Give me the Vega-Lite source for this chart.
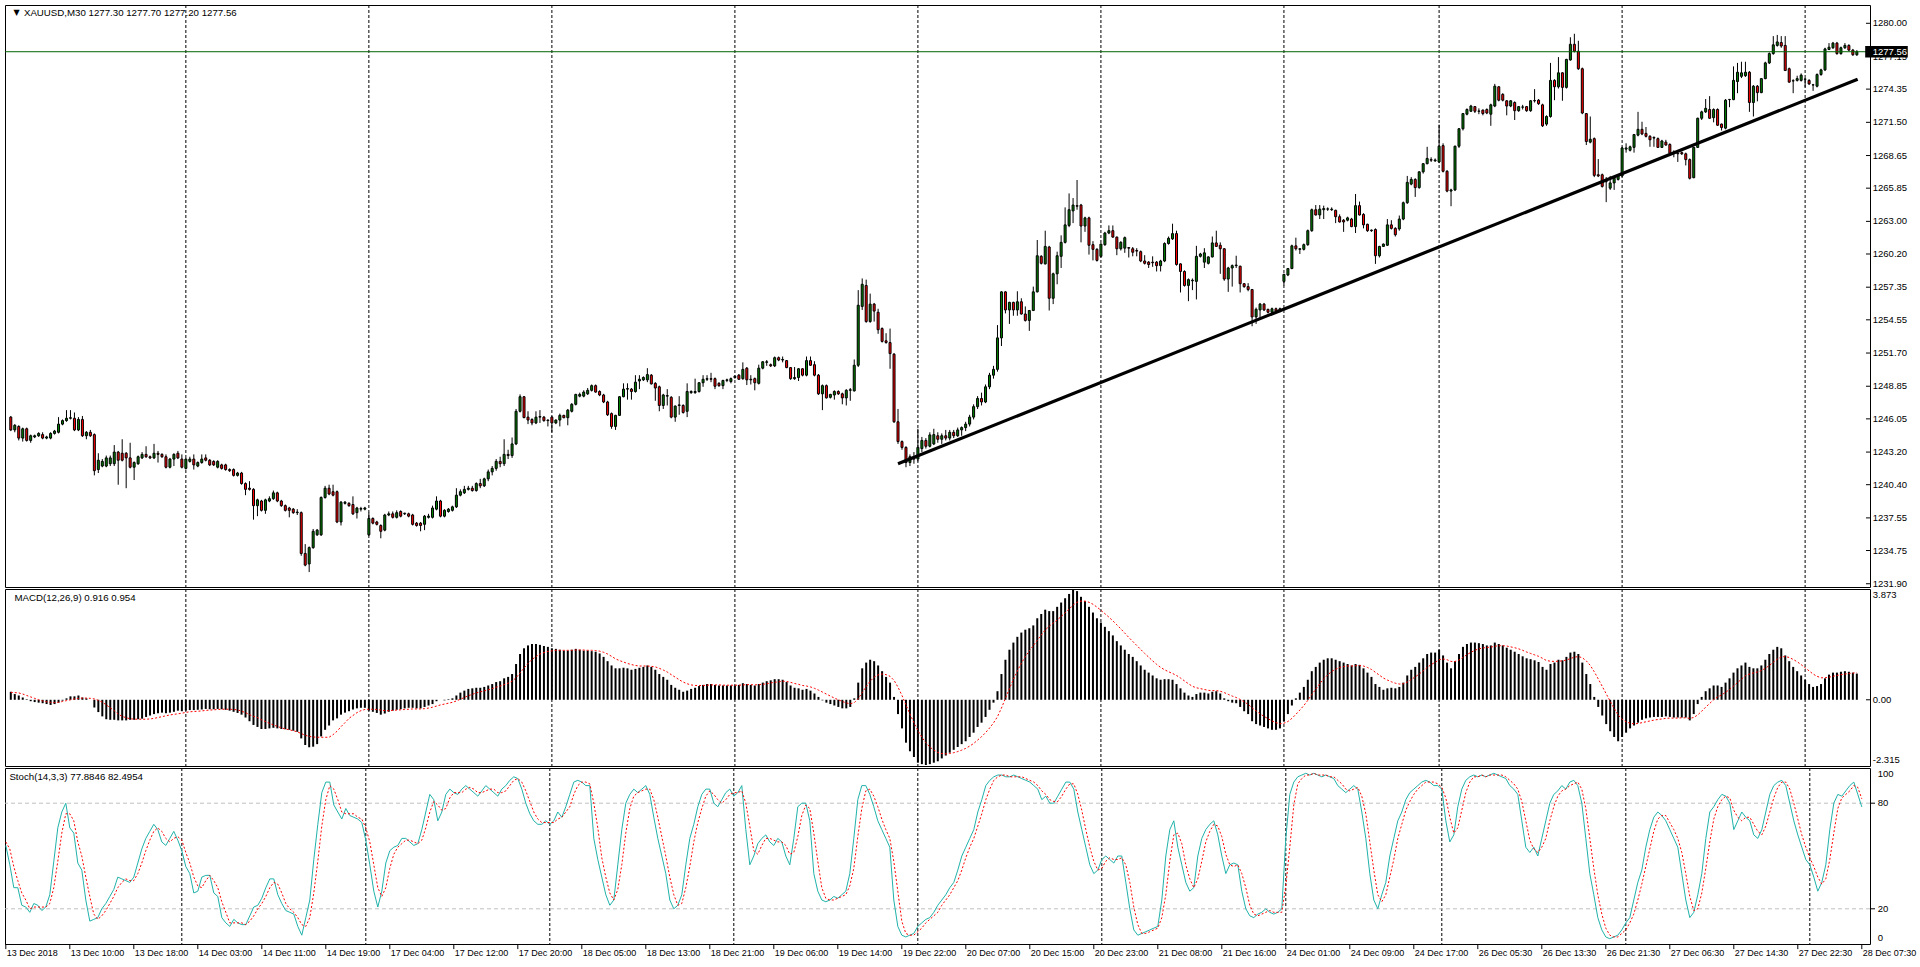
{
"$schema":"https://vega.github.io/schema/vega-lite/v6.json",
"padding":{"left":3,"top":4,"right":50,"bottom":23},
"background":"white",
"bounds":"flush",
"spacing":2,
"config":{"view":{"stroke":"black","strokeWidth":1},"font":"Liberation Sans","text":{"font":"Liberation Sans","color":"black","clip":false}},
"datasets":{
"seps":[{"x":44},{"x":90},{"x":136},{"x":182},{"x":228},{"x":274},{"x":320},{"x":359},{"x":405},{"x":451}],
"trend":[{"x":223,"y":1242.2},{"x":464.2,"y":1275.2}],
"pt":[{"v":1280.00,"t":"1280.00"},{"v":1277.15,"t":"1277.15"},{"v":1274.35,"t":"1274.35"},{"v":1271.50,"t":"1271.50"},{"v":1268.65,"t":"1268.65"},{"v":1265.85,"t":"1265.85"},{"v":1263.00,"t":"1263.00"},{"v":1260.20,"t":"1260.20"},{"v":1257.35,"t":"1257.35"},{"v":1254.55,"t":"1254.55"},{"v":1251.70,"t":"1251.70"},{"v":1248.85,"t":"1248.85"},{"v":1246.05,"t":"1246.05"},{"v":1243.20,"t":"1243.20"},{"v":1240.40,"t":"1240.40"},{"v":1237.55,"t":"1237.55"},{"v":1234.75,"t":"1234.75"},{"v":1231.90,"t":"1231.90"}],
"xt":[{"x":0,"t":"13 Dec 2018"},{"x":16,"t":"13 Dec 10:00"},{"x":32,"t":"13 Dec 18:00"},{"x":48,"t":"14 Dec 03:00"},{"x":64,"t":"14 Dec 11:00"},{"x":80,"t":"14 Dec 19:00"},{"x":96,"t":"17 Dec 04:00"},{"x":112,"t":"17 Dec 12:00"},{"x":128,"t":"17 Dec 20:00"},{"x":144,"t":"18 Dec 05:00"},{"x":160,"t":"18 Dec 13:00"},{"x":176,"t":"18 Dec 21:00"},{"x":192,"t":"19 Dec 06:00"},{"x":208,"t":"19 Dec 14:00"},{"x":224,"t":"19 Dec 22:00"},{"x":240,"t":"20 Dec 07:00"},{"x":256,"t":"20 Dec 15:00"},{"x":272,"t":"20 Dec 23:00"},{"x":288,"t":"21 Dec 08:00"},{"x":304,"t":"21 Dec 16:00"},{"x":320,"t":"24 Dec 01:00"},{"x":336,"t":"24 Dec 09:00"},{"x":352,"t":"24 Dec 17:00"},{"x":368,"t":"26 Dec 05:30"},{"x":384,"t":"26 Dec 13:30"},{"x":400,"t":"26 Dec 21:30"},{"x":416,"t":"27 Dec 06:30"},{"x":432,"t":"27 Dec 14:30"},{"x":448,"t":"27 Dec 22:30"},{"x":464,"t":"28 Dec 07:30"}],
"bars":[
{"i":0,"o":1246.2,"h":1246.3,"l":1245.0,"c":1245.1,"m":0.28,"s":0.26,"k":56,"d":58},
{"i":1,"o":1245.1,"h":1245.6,"l":1244.9,"c":1245.5,"m":0.2,"s":0.25,"k":45,"d":54},
{"i":2,"o":1245.4,"h":1245.5,"l":1244.2,"c":1244.4,"m":0.15,"s":0.24,"k":32,"d":44},
{"i":3,"o":1244.4,"h":1245.3,"l":1244.1,"c":1245.2,"m":0.08,"s":0.2,"k":32,"d":36},
{"i":4,"o":1245.2,"h":1245.3,"l":1244.1,"c":1244.2,"m":0.02,"s":0.15,"k":22,"d":29},
{"i":5,"o":1244.2,"h":1244.7,"l":1244.0,"c":1244.6,"m":-0.05,"s":0.1,"k":21,"d":25},
{"i":6,"o":1244.5,"h":1244.7,"l":1244.4,"c":1244.6,"m":-0.08,"s":0.05,"k":18,"d":20},
{"i":7,"o":1244.6,"h":1244.9,"l":1244.5,"c":1244.8,"m":-0.1,"s":0.0,"k":23,"d":21},
{"i":8,"o":1244.7,"h":1244.9,"l":1244.3,"c":1244.4,"m":-0.12,"s":-0.04,"k":22,"d":21},
{"i":9,"o":1244.4,"h":1244.6,"l":1244.3,"c":1244.5,"m":-0.15,"s":-0.07,"k":19,"d":21},
{"i":10,"o":1244.4,"h":1244.9,"l":1244.3,"c":1244.8,"m":-0.18,"s":-0.09,"k":21,"d":21},
{"i":11,"o":1244.8,"h":1245.1,"l":1244.7,"c":1245.0,"m":-0.15,"s":-0.1,"k":28,"d":23},
{"i":12,"o":1244.9,"h":1246.2,"l":1244.8,"c":1245.6,"m":-0.1,"s":-0.09,"k":47,"d":32},
{"i":13,"o":1245.6,"h":1246.0,"l":1245.5,"c":1245.9,"m":-0.03,"s":-0.06,"k":66,"d":47},
{"i":14,"o":1245.9,"h":1246.8,"l":1245.8,"c":1246.1,"m":0.05,"s":-0.03,"k":75,"d":63},
{"i":15,"o":1246.1,"h":1246.8,"l":1246.0,"c":1246.15,"m":0.12,"s":0.0,"k":80,"d":74},
{"i":16,"o":1246.1,"h":1246.6,"l":1245.0,"c":1245.1,"m":0.12,"s":0.03,"k":66,"d":74},
{"i":17,"o":1245.1,"h":1246.2,"l":1245.0,"c":1246.0,"m":0.15,"s":0.05,"k":63,"d":70},
{"i":18,"o":1246.0,"h":1246.3,"l":1244.5,"c":1244.6,"m":0.08,"s":0.06,"k":46,"d":58},
{"i":19,"o":1244.6,"h":1245.0,"l":1244.3,"c":1244.9,"m":0.05,"s":0.06,"k":42,"d":50},
{"i":20,"o":1244.9,"h":1245.1,"l":1244.5,"c":1244.6,"m":0.0,"s":0.05,"k":25,"d":38},
{"i":21,"o":1244.7,"h":1244.8,"l":1241.2,"c":1241.6,"m":-0.27,"s":0.03,"k":13,"d":27},
{"i":22,"o":1241.7,"h":1243.1,"l":1241.4,"c":1242.5,"m":-0.43,"s":-0.02,"k":14,"d":17},
{"i":23,"o":1242.0,"h":1242.6,"l":1241.9,"c":1242.4,"m":-0.58,"s":-0.08,"k":15,"d":14},
{"i":24,"o":1242.0,"h":1242.9,"l":1241.9,"c":1242.7,"m":-0.68,"s":-0.18,"k":20,"d":16},
{"i":25,"o":1242.2,"h":1242.9,"l":1242.0,"c":1242.7,"m":-0.7,"s":-0.28,"k":23,"d":19},
{"i":26,"o":1242.2,"h":1243.8,"l":1242.0,"c":1243.2,"m":-0.7,"s":-0.38,"k":27,"d":23},
{"i":27,"o":1243.2,"h":1243.3,"l":1240.4,"c":1242.5,"m":-0.72,"s":-0.5,"k":31,"d":27},
{"i":28,"o":1243.1,"h":1244.3,"l":1242.4,"c":1242.5,"m":-0.72,"s":-0.58,"k":38,"d":32},
{"i":29,"o":1243.1,"h":1243.2,"l":1240.1,"c":1242.7,"m":-0.72,"s":-0.63,"k":37,"d":35},
{"i":30,"o":1242.7,"h":1244.0,"l":1241.8,"c":1241.9,"m":-0.7,"s":-0.66,"k":36,"d":37},
{"i":31,"o":1241.9,"h":1242.4,"l":1240.8,"c":1242.3,"m":-0.7,"s":-0.68,"k":35,"d":36},
{"i":32,"o":1242.2,"h":1242.9,"l":1242.1,"c":1242.8,"m":-0.68,"s":-0.68,"k":38,"d":36},
{"i":33,"o":1242.7,"h":1243.2,"l":1242.6,"c":1243.0,"m":-0.66,"s":-0.68,"k":46,"d":40},
{"i":34,"o":1243.0,"h":1243.7,"l":1242.7,"c":1242.8,"m":-0.6,"s":-0.68,"k":54,"d":46},
{"i":35,"o":1242.8,"h":1242.9,"l":1242.6,"c":1242.7,"m":-0.55,"s":-0.67,"k":60,"d":53},
{"i":36,"o":1242.7,"h":1243.9,"l":1242.6,"c":1243.1,"m":-0.5,"s":-0.65,"k":64,"d":59},
{"i":37,"o":1243.1,"h":1243.3,"l":1242.3,"c":1243.0,"m":-0.47,"s":-0.62,"k":68,"d":64},
{"i":38,"o":1243.0,"h":1243.1,"l":1242.7,"c":1242.8,"m":-0.45,"s":-0.59,"k":65,"d":66},
{"i":39,"o":1242.8,"h":1243.0,"l":1241.8,"c":1241.9,"m":-0.47,"s":-0.56,"k":58,"d":64},
{"i":40,"o":1241.9,"h":1242.7,"l":1241.8,"c":1242.6,"m":-0.45,"s":-0.53,"k":56,"d":60},
{"i":41,"o":1242.6,"h":1243.1,"l":1242.0,"c":1243.0,"m":-0.42,"s":-0.51,"k":60,"d":58},
{"i":42,"o":1243.1,"h":1243.3,"l":1242.6,"c":1242.7,"m":-0.38,"s":-0.49,"k":64,"d":60},
{"i":43,"o":1242.6,"h":1243.0,"l":1241.8,"c":1241.9,"m":-0.4,"s":-0.47,"k":59,"d":61},
{"i":44,"o":1241.8,"h":1242.7,"l":1241.7,"c":1242.6,"m":-0.38,"s":-0.44,"k":53,"d":59},
{"i":45,"o":1242.4,"h":1242.8,"l":1242.3,"c":1242.6,"m":-0.36,"s":-0.42,"k":44,"d":52},
{"i":46,"o":1242.6,"h":1243.0,"l":1241.7,"c":1242.1,"m":-0.36,"s":-0.41,"k":40,"d":46},
{"i":47,"o":1242.0,"h":1242.4,"l":1241.9,"c":1242.3,"m":-0.35,"s":-0.4,"k":29,"d":38},
{"i":48,"o":1242.3,"h":1243.0,"l":1242.2,"c":1242.6,"m":-0.34,"s":-0.39,"k":30,"d":33},
{"i":49,"o":1242.7,"h":1243.0,"l":1242.4,"c":1242.5,"m":-0.32,"s":-0.37,"k":38,"d":32},
{"i":50,"o":1242.5,"h":1242.6,"l":1242.0,"c":1242.1,"m":-0.33,"s":-0.36,"k":39,"d":36},
{"i":51,"o":1242.4,"h":1242.5,"l":1242.0,"c":1242.1,"m":-0.33,"s":-0.35,"k":39,"d":39},
{"i":52,"o":1241.9,"h":1242.5,"l":1241.8,"c":1242.4,"m":-0.32,"s":-0.34,"k":29,"d":36},
{"i":53,"o":1242.1,"h":1242.2,"l":1241.7,"c":1241.8,"m":-0.33,"s":-0.33,"k":27,"d":32},
{"i":54,"o":1242.1,"h":1242.2,"l":1241.6,"c":1241.7,"m":-0.35,"s":-0.33,"k":15,"d":24},
{"i":55,"o":1241.7,"h":1241.8,"l":1241.5,"c":1241.6,"m":-0.38,"s":-0.33,"k":12,"d":18},
{"i":56,"o":1241.7,"h":1241.8,"l":1241.1,"c":1241.2,"m":-0.42,"s":-0.34,"k":10,"d":12},
{"i":57,"o":1241.2,"h":1241.5,"l":1241.1,"c":1241.4,"m":-0.46,"s":-0.35,"k":14,"d":12},
{"i":58,"o":1241.4,"h":1241.5,"l":1240.4,"c":1240.5,"m":-0.52,"s":-0.4,"k":12,"d":12},
{"i":59,"o":1240.5,"h":1240.6,"l":1239.5,"c":1240.0,"m":-0.62,"s":-0.45,"k":11,"d":12},
{"i":60,"o":1240.1,"h":1240.7,"l":1239.9,"c":1240.0,"m":-0.75,"s":-0.52,"k":11,"d":11},
{"i":61,"o":1240.0,"h":1240.1,"l":1237.4,"c":1238.6,"m":-0.88,"s":-0.58,"k":16,"d":13},
{"i":62,"o":1238.6,"h":1239.2,"l":1237.7,"c":1239.1,"m":-0.95,"s":-0.62,"k":21,"d":16},
{"i":63,"o":1239.0,"h":1239.1,"l":1238.1,"c":1238.2,"m":-1.02,"s":-0.7,"k":22,"d":20},
{"i":64,"o":1238.2,"h":1239.2,"l":1237.9,"c":1239.1,"m":-1.02,"s":-0.76,"k":26,"d":23},
{"i":65,"o":1239.0,"h":1239.4,"l":1238.9,"c":1239.2,"m":-1.0,"s":-0.82,"k":32,"d":27},
{"i":66,"o":1239.2,"h":1239.9,"l":1239.1,"c":1239.7,"m":-0.98,"s":-0.88,"k":37,"d":32},
{"i":67,"o":1239.7,"h":1239.8,"l":1238.9,"c":1239.0,"m":-1.0,"s":-0.93,"k":37,"d":35},
{"i":68,"o":1239.0,"h":1239.1,"l":1238.5,"c":1238.6,"m":-1.02,"s":-0.98,"k":28,"d":34},
{"i":69,"o":1238.6,"h":1238.7,"l":1238.1,"c":1238.2,"m":-1.03,"s":-1.02,"k":23,"d":29},
{"i":70,"o":1238.4,"h":1238.5,"l":1237.6,"c":1238.2,"m":-1.05,"s":-1.05,"k":19,"d":23},
{"i":71,"o":1238.3,"h":1238.4,"l":1237.9,"c":1238.0,"m":-1.08,"s":-1.08,"k":18,"d":20},
{"i":72,"o":1238.0,"h":1238.3,"l":1237.8,"c":1238.05,"m":-1.12,"s":-1.12,"k":17,"d":18},
{"i":73,"o":1238.0,"h":1238.1,"l":1234.3,"c":1234.5,"m":-1.35,"s":-1.18,"k":10,"d":15},
{"i":74,"o":1234.5,"h":1235.3,"l":1233.4,"c":1233.5,"m":-1.58,"s":-1.24,"k":5,"d":11},
{"i":75,"o":1233.6,"h":1235.1,"l":1232.9,"c":1235.0,"m":-1.66,"s":-1.28,"k":15,"d":10},
{"i":76,"o":1235.0,"h":1236.6,"l":1234.9,"c":1236.4,"m":-1.64,"s":-1.3,"k":25,"d":15},
{"i":77,"o":1236.1,"h":1236.6,"l":1236.0,"c":1236.5,"m":-1.55,"s":-1.31,"k":48,"d":29},
{"i":78,"o":1236.1,"h":1239.4,"l":1236.0,"c":1239.3,"m":-1.28,"s":-1.31,"k":68,"d":47},
{"i":79,"o":1239.3,"h":1240.3,"l":1239.2,"c":1240.1,"m":-1.05,"s":-1.31,"k":86,"d":67},
{"i":80,"o":1240.1,"h":1240.4,"l":1239.5,"c":1239.6,"m":-0.9,"s":-1.31,"k":92,"d":82},
{"i":81,"o":1239.8,"h":1240.4,"l":1239.4,"c":1239.5,"m":-0.72,"s":-1.22,"k":92,"d":90},
{"i":82,"o":1239.8,"h":1239.9,"l":1237.1,"c":1237.2,"m":-0.65,"s":-1.1,"k":79,"d":88},
{"i":83,"o":1237.2,"h":1239.0,"l":1236.9,"c":1238.9,"m":-0.52,"s":-0.94,"k":75,"d":82},
{"i":84,"o":1238.8,"h":1239.0,"l":1238.7,"c":1238.9,"m":-0.45,"s":-0.8,"k":71,"d":75},
{"i":85,"o":1238.8,"h":1238.9,"l":1238.5,"c":1238.6,"m":-0.4,"s":-0.65,"k":77,"d":74},
{"i":86,"o":1238.7,"h":1239.4,"l":1237.8,"c":1237.9,"m":-0.34,"s":-0.55,"k":73,"d":74},
{"i":87,"o":1238.0,"h":1238.5,"l":1237.5,"c":1238.4,"m":-0.3,"s":-0.45,"k":72,"d":74},
{"i":88,"o":1238.3,"h":1238.5,"l":1238.1,"c":1238.35,"m":-0.28,"s":-0.38,"k":71,"d":72},
{"i":89,"o":1238.3,"h":1238.5,"l":1238.2,"c":1238.4,"m":-0.28,"s":-0.34,"k":69,"d":71},
{"i":90,"o":1236.1,"h":1238.0,"l":1236.0,"c":1237.5,"m":-0.38,"s":-0.33,"k":59,"d":66},
{"i":91,"o":1237.5,"h":1237.6,"l":1237.0,"c":1237.1,"m":-0.42,"s":-0.33,"k":45,"d":58},
{"i":92,"o":1237.2,"h":1237.3,"l":1236.9,"c":1237.0,"m":-0.46,"s":-0.34,"k":30,"d":45},
{"i":93,"o":1236.9,"h":1237.0,"l":1235.8,"c":1236.4,"m":-0.52,"s":-0.36,"k":21,"d":32},
{"i":94,"o":1236.5,"h":1237.9,"l":1236.4,"c":1237.8,"m":-0.48,"s":-0.38,"k":30,"d":27},
{"i":95,"o":1237.8,"h":1238.1,"l":1237.7,"c":1237.9,"m":-0.42,"s":-0.38,"k":46,"d":32},
{"i":96,"o":1237.9,"h":1238.1,"l":1237.5,"c":1237.6,"m":-0.38,"s":-0.37,"k":53,"d":43},
{"i":97,"o":1237.6,"h":1238.2,"l":1237.5,"c":1238.0,"m":-0.35,"s":-0.36,"k":55,"d":51},
{"i":98,"o":1238.1,"h":1238.2,"l":1237.6,"c":1237.7,"m":-0.33,"s":-0.35,"k":56,"d":55},
{"i":99,"o":1237.9,"h":1238.0,"l":1237.8,"c":1237.95,"m":-0.3,"s":-0.34,"k":60,"d":57},
{"i":100,"o":1237.9,"h":1238.0,"l":1237.6,"c":1237.7,"m":-0.28,"s":-0.33,"k":60,"d":59},
{"i":101,"o":1237.8,"h":1237.9,"l":1236.9,"c":1237.0,"m":-0.28,"s":-0.32,"k":58,"d":59},
{"i":102,"o":1237.1,"h":1237.2,"l":1236.8,"c":1236.9,"m":-0.3,"s":-0.32,"k":56,"d":58},
{"i":103,"o":1237.1,"h":1237.2,"l":1236.4,"c":1236.9,"m":-0.3,"s":-0.32,"k":57,"d":57},
{"i":104,"o":1237.0,"h":1237.8,"l":1236.5,"c":1237.7,"m":-0.25,"s":-0.31,"k":65,"d":59},
{"i":105,"o":1237.6,"h":1237.9,"l":1237.5,"c":1237.7,"m":-0.2,"s":-0.29,"k":75,"d":66},
{"i":106,"o":1237.6,"h":1238.6,"l":1237.5,"c":1238.4,"m":-0.15,"s":-0.26,"k":85,"d":75},
{"i":107,"o":1238.3,"h":1239.4,"l":1238.2,"c":1239.0,"m":-0.05,"s":-0.22,"k":82,"d":81},
{"i":108,"o":1239.0,"h":1239.1,"l":1237.6,"c":1237.7,"m":0.0,"s":-0.18,"k":70,"d":79},
{"i":109,"o":1237.7,"h":1238.3,"l":1237.6,"c":1238.2,"m":-0.02,"s":-0.15,"k":75,"d":76},
{"i":110,"o":1238.1,"h":1238.4,"l":1238.0,"c":1238.3,"m":0.02,"s":-0.12,"k":85,"d":77},
{"i":111,"o":1238.2,"h":1238.6,"l":1238.1,"c":1238.5,"m":0.05,"s":-0.09,"k":88,"d":83},
{"i":112,"o":1238.5,"h":1240.1,"l":1238.4,"c":1239.5,"m":0.15,"s":-0.04,"k":86,"d":86},
{"i":113,"o":1239.5,"h":1240.0,"l":1239.4,"c":1239.8,"m":0.25,"s":0.02,"k":85,"d":86},
{"i":114,"o":1239.7,"h":1240.3,"l":1239.6,"c":1240.0,"m":0.32,"s":0.08,"k":88,"d":86},
{"i":115,"o":1240.0,"h":1240.3,"l":1239.9,"c":1240.1,"m":0.38,"s":0.14,"k":90,"d":88},
{"i":116,"o":1240.1,"h":1240.3,"l":1239.8,"c":1239.9,"m":0.4,"s":0.19,"k":88,"d":89},
{"i":117,"o":1239.9,"h":1240.6,"l":1239.8,"c":1240.5,"m":0.42,"s":0.24,"k":86,"d":88},
{"i":118,"o":1240.5,"h":1240.9,"l":1240.1,"c":1240.3,"m":0.42,"s":0.28,"k":84,"d":86},
{"i":119,"o":1240.3,"h":1241.0,"l":1240.2,"c":1240.9,"m":0.45,"s":0.31,"k":87,"d":86},
{"i":120,"o":1240.9,"h":1241.7,"l":1240.7,"c":1241.5,"m":0.5,"s":0.35,"k":90,"d":87},
{"i":121,"o":1241.5,"h":1242.0,"l":1241.2,"c":1241.8,"m":0.55,"s":0.39,"k":88,"d":88},
{"i":122,"o":1241.8,"h":1242.6,"l":1241.6,"c":1242.4,"m":0.62,"s":0.44,"k":86,"d":88},
{"i":123,"o":1242.4,"h":1242.8,"l":1241.9,"c":1242.2,"m":0.65,"s":0.48,"k":84,"d":86},
{"i":124,"o":1242.2,"h":1244.3,"l":1242.0,"c":1243.0,"m":0.75,"s":0.53,"k":88,"d":86},
{"i":125,"o":1243.0,"h":1243.4,"l":1242.6,"c":1242.9,"m":0.8,"s":0.58,"k":90,"d":87},
{"i":126,"o":1242.9,"h":1244.45,"l":1242.7,"c":1243.9,"m":0.9,"s":0.65,"k":93,"d":90},
{"i":127,"o":1243.9,"h":1246.9,"l":1243.8,"c":1246.7,"m":1.25,"s":0.77,"k":95,"d":93},
{"i":128,"o":1246.7,"h":1248.15,"l":1246.6,"c":1247.95,"m":1.6,"s":0.94,"k":94,"d":94},
{"i":129,"o":1247.95,"h":1248.0,"l":1246.1,"c":1246.16,"m":1.8,"s":1.11,"k":88,"d":92},
{"i":130,"o":1246.2,"h":1246.7,"l":1245.6,"c":1245.95,"m":1.9,"s":1.27,"k":80,"d":87},
{"i":131,"o":1246.0,"h":1246.1,"l":1245.5,"c":1245.7,"m":1.95,"s":1.41,"k":74,"d":81},
{"i":132,"o":1245.7,"h":1246.7,"l":1245.6,"c":1246.2,"m":1.95,"s":1.51,"k":70,"d":75},
{"i":133,"o":1246.2,"h":1246.8,"l":1245.7,"c":1246.25,"m":1.92,"s":1.6,"k":68,"d":71},
{"i":134,"o":1246.2,"h":1246.3,"l":1245.8,"c":1245.9,"m":1.88,"s":1.65,"k":68,"d":69},
{"i":135,"o":1245.9,"h":1246.0,"l":1245.4,"c":1245.95,"m":1.85,"s":1.69,"k":70,"d":69},
{"i":136,"o":1246.2,"h":1246.3,"l":1244.9,"c":1245.7,"m":1.8,"s":1.71,"k":68,"d":69},
{"i":137,"o":1245.7,"h":1246.0,"l":1245.6,"c":1245.95,"m":1.78,"s":1.73,"k":70,"d":69},
{"i":138,"o":1245.95,"h":1246.5,"l":1245.4,"c":1246.35,"m":1.75,"s":1.73,"k":75,"d":71},
{"i":139,"o":1246.35,"h":1246.4,"l":1246.1,"c":1246.15,"m":1.72,"s":1.73,"k":72,"d":72},
{"i":140,"o":1246.15,"h":1246.9,"l":1245.5,"c":1246.8,"m":1.72,"s":1.73,"k":78,"d":75},
{"i":141,"o":1246.7,"h":1247.4,"l":1246.6,"c":1247.3,"m":1.75,"s":1.73,"k":85,"d":78},
{"i":142,"o":1247.3,"h":1248.2,"l":1247.2,"c":1248.15,"m":1.78,"s":1.74,"k":92,"d":85},
{"i":143,"o":1248.0,"h":1248.3,"l":1247.9,"c":1248.15,"m":1.75,"s":1.74,"k":93,"d":90},
{"i":144,"o":1248.0,"h":1248.5,"l":1247.9,"c":1248.35,"m":1.72,"s":1.74,"k":92,"d":92},
{"i":145,"o":1248.2,"h":1248.7,"l":1248.1,"c":1248.5,"m":1.72,"s":1.73,"k":90,"d":92},
{"i":146,"o":1248.5,"h":1249.0,"l":1248.4,"c":1248.9,"m":1.7,"s":1.73,"k":90,"d":91},
{"i":147,"o":1248.9,"h":1249.0,"l":1248.3,"c":1248.35,"m":1.68,"s":1.72,"k":60,"d":80},
{"i":148,"o":1248.4,"h":1248.5,"l":1248.0,"c":1248.1,"m":1.62,"s":1.7,"k":48,"d":66},
{"i":149,"o":1248.1,"h":1248.2,"l":1247.4,"c":1247.5,"m":1.5,"s":1.66,"k":38,"d":49},
{"i":150,"o":1247.5,"h":1247.6,"l":1246.3,"c":1246.4,"m":1.35,"s":1.6,"k":28,"d":38},
{"i":151,"o":1246.5,"h":1246.6,"l":1245.2,"c":1245.4,"m":1.2,"s":1.52,"k":22,"d":29},
{"i":152,"o":1245.4,"h":1246.4,"l":1245.1,"c":1246.35,"m":1.1,"s":1.43,"k":25,"d":25},
{"i":153,"o":1246.35,"h":1248.0,"l":1246.3,"c":1247.95,"m":1.1,"s":1.37,"k":45,"d":31},
{"i":154,"o":1247.95,"h":1249.1,"l":1247.9,"c":1248.6,"m":1.12,"s":1.32,"k":65,"d":45},
{"i":155,"o":1248.6,"h":1249.1,"l":1247.7,"c":1248.65,"m":1.1,"s":1.27,"k":80,"d":63},
{"i":156,"o":1248.6,"h":1248.7,"l":1247.7,"c":1248.4,"m":1.05,"s":1.23,"k":85,"d":77},
{"i":157,"o":1248.4,"h":1249.8,"l":1248.3,"c":1249.2,"m":1.08,"s":1.2,"k":88,"d":84},
{"i":158,"o":1249.3,"h":1249.8,"l":1248.6,"c":1249.45,"m":1.12,"s":1.18,"k":86,"d":86},
{"i":159,"o":1249.4,"h":1249.7,"l":1249.3,"c":1249.6,"m":1.15,"s":1.18,"k":88,"d":87},
{"i":160,"o":1249.4,"h":1250.4,"l":1249.2,"c":1249.85,"m":1.2,"s":1.18,"k":90,"d":88},
{"i":161,"o":1249.8,"h":1249.9,"l":1249.0,"c":1249.05,"m":1.15,"s":1.17,"k":85,"d":88},
{"i":162,"o":1249.1,"h":1249.2,"l":1247.6,"c":1248.7,"m":1.05,"s":1.15,"k":72,"d":82},
{"i":163,"o":1248.8,"h":1248.9,"l":1246.7,"c":1247.2,"m":0.9,"s":1.1,"k":60,"d":72},
{"i":164,"o":1247.2,"h":1248.2,"l":1246.9,"c":1248.1,"m":0.8,"s":1.04,"k":50,"d":61},
{"i":165,"o":1248.0,"h":1248.6,"l":1247.2,"c":1248.05,"m":0.7,"s":0.97,"k":40,"d":50},
{"i":166,"o":1247.9,"h":1248.0,"l":1246.1,"c":1246.2,"m":0.52,"s":0.88,"k":25,"d":38},
{"i":167,"o":1246.2,"h":1247.2,"l":1245.8,"c":1247.15,"m":0.42,"s":0.79,"k":20,"d":28},
{"i":168,"o":1247.2,"h":1248.0,"l":1246.4,"c":1247.25,"m":0.35,"s":0.7,"k":22,"d":22},
{"i":169,"o":1247.2,"h":1247.3,"l":1246.5,"c":1246.6,"m":0.28,"s":0.62,"k":28,"d":23},
{"i":170,"o":1246.7,"h":1249.1,"l":1246.2,"c":1248.4,"m":0.32,"s":0.56,"k":45,"d":32},
{"i":171,"o":1248.3,"h":1248.5,"l":1248.2,"c":1248.4,"m":0.38,"s":0.52,"k":60,"d":44},
{"i":172,"o":1248.3,"h":1249.5,"l":1248.2,"c":1248.4,"m":0.42,"s":0.5,"k":68,"d":58},
{"i":173,"o":1248.4,"h":1249.2,"l":1248.3,"c":1249.15,"m":0.48,"s":0.5,"k":78,"d":69},
{"i":174,"o":1249.15,"h":1249.8,"l":1248.8,"c":1249.45,"m":0.52,"s":0.5,"k":85,"d":77},
{"i":175,"o":1249.45,"h":1249.8,"l":1249.3,"c":1249.5,"m":0.55,"s":0.51,"k":88,"d":84},
{"i":176,"o":1249.5,"h":1250.0,"l":1249.2,"c":1249.45,"m":0.55,"s":0.52,"k":88,"d":87},
{"i":177,"o":1249.5,"h":1249.6,"l":1248.6,"c":1248.85,"m":0.52,"s":0.52,"k":80,"d":85},
{"i":178,"o":1249.1,"h":1249.2,"l":1248.8,"c":1248.9,"m":0.5,"s":0.52,"k":78,"d":82},
{"i":179,"o":1248.9,"h":1249.4,"l":1248.6,"c":1249.35,"m":0.5,"s":0.51,"k":82,"d":80},
{"i":180,"o":1249.35,"h":1249.5,"l":1249.2,"c":1249.4,"m":0.5,"s":0.51,"k":86,"d":82},
{"i":181,"o":1249.25,"h":1249.6,"l":1249.1,"c":1249.5,"m":0.5,"s":0.51,"k":88,"d":85},
{"i":182,"o":1249.6,"h":1249.8,"l":1249.5,"c":1249.7,"m":0.5,"s":0.51,"k":84,"d":86},
{"i":183,"o":1249.8,"h":1249.9,"l":1249.4,"c":1249.45,"m":0.52,"s":0.51,"k":86,"d":86},
{"i":184,"o":1249.5,"h":1250.9,"l":1249.4,"c":1250.3,"m":0.58,"s":0.52,"k":90,"d":87},
{"i":185,"o":1250.4,"h":1250.5,"l":1248.95,"c":1249.4,"m":0.55,"s":0.53,"k":65,"d":80},
{"i":186,"o":1249.4,"h":1249.8,"l":1249.0,"c":1249.45,"m":0.52,"s":0.53,"k":45,"d":67},
{"i":187,"o":1249.5,"h":1249.6,"l":1248.5,"c":1249.15,"m":0.5,"s":0.52,"k":50,"d":53},
{"i":188,"o":1249.1,"h":1250.7,"l":1249.0,"c":1250.4,"m":0.55,"s":0.53,"k":57,"d":51},
{"i":189,"o":1250.4,"h":1251.0,"l":1250.3,"c":1250.95,"m":0.6,"s":0.54,"k":60,"d":56},
{"i":190,"o":1250.9,"h":1251.1,"l":1250.6,"c":1250.95,"m":0.65,"s":0.56,"k":62,"d":60},
{"i":191,"o":1250.7,"h":1250.8,"l":1250.5,"c":1250.6,"m":0.68,"s":0.59,"k":58,"d":60},
{"i":192,"o":1250.6,"h":1251.4,"l":1250.5,"c":1251.3,"m":0.72,"s":0.61,"k":56,"d":59},
{"i":193,"o":1251.3,"h":1251.4,"l":1251.0,"c":1251.1,"m":0.72,"s":0.63,"k":60,"d":58},
{"i":194,"o":1251.1,"h":1251.4,"l":1250.9,"c":1251.15,"m":0.7,"s":0.65,"k":58,"d":58},
{"i":195,"o":1251.05,"h":1251.1,"l":1250.4,"c":1250.45,"m":0.62,"s":0.64,"k":50,"d":56},
{"i":196,"o":1250.45,"h":1250.5,"l":1249.4,"c":1249.5,"m":0.5,"s":0.61,"k":45,"d":51},
{"i":197,"o":1249.5,"h":1250.5,"l":1249.4,"c":1249.6,"m":0.42,"s":0.57,"k":60,"d":52},
{"i":198,"o":1249.6,"h":1250.4,"l":1249.3,"c":1250.35,"m":0.4,"s":0.54,"k":78,"d":61},
{"i":199,"o":1250.35,"h":1250.4,"l":1249.7,"c":1249.8,"m":0.35,"s":0.5,"k":80,"d":73},
{"i":200,"o":1249.8,"h":1251.4,"l":1249.7,"c":1251.05,"m":0.38,"s":0.48,"k":80,"d":79},
{"i":201,"o":1251.05,"h":1251.4,"l":1250.6,"c":1250.65,"m":0.32,"s":0.45,"k":70,"d":77},
{"i":202,"o":1250.7,"h":1251.0,"l":1249.7,"c":1249.8,"m":0.22,"s":0.4,"k":40,"d":63},
{"i":203,"o":1249.8,"h":1249.9,"l":1248.1,"c":1248.2,"m":0.1,"s":0.34,"k":30,"d":47},
{"i":204,"o":1248.2,"h":1249.0,"l":1246.8,"c":1248.9,"m":-0.02,"s":0.27,"k":25,"d":32},
{"i":205,"o":1248.9,"h":1249.0,"l":1247.8,"c":1247.85,"m":-0.1,"s":0.2,"k":24,"d":26},
{"i":206,"o":1247.9,"h":1248.2,"l":1247.8,"c":1248.15,"m":-0.15,"s":0.13,"k":25,"d":25},
{"i":207,"o":1248.1,"h":1248.5,"l":1247.7,"c":1248.4,"m":-0.2,"s":0.06,"k":27,"d":25},
{"i":208,"o":1248.4,"h":1248.5,"l":1248.1,"c":1248.2,"m":-0.25,"s":0.0,"k":26,"d":26},
{"i":209,"o":1248.2,"h":1248.3,"l":1247.3,"c":1247.85,"m":-0.3,"s":-0.06,"k":28,"d":27},
{"i":210,"o":1247.85,"h":1248.6,"l":1247.2,"c":1248.5,"m":-0.3,"s":-0.11,"k":30,"d":28},
{"i":211,"o":1248.5,"h":1248.7,"l":1247.6,"c":1248.55,"m":-0.25,"s":-0.14,"k":40,"d":33},
{"i":212,"o":1248.45,"h":1251.15,"l":1248.4,"c":1250.65,"m":0.05,"s":-0.1,"k":60,"d":43},
{"i":213,"o":1250.65,"h":1257.1,"l":1250.5,"c":1255.8,"m":0.6,"s":0.04,"k":82,"d":61},
{"i":214,"o":1255.7,"h":1258.1,"l":1255.4,"c":1257.6,"m":1.1,"s":0.25,"k":90,"d":77},
{"i":215,"o":1257.5,"h":1258.0,"l":1254.3,"c":1254.4,"m":1.3,"s":0.46,"k":90,"d":87},
{"i":216,"o":1254.4,"h":1256.8,"l":1254.3,"c":1255.9,"m":1.4,"s":0.65,"k":85,"d":88},
{"i":217,"o":1255.9,"h":1256.0,"l":1254.4,"c":1255.3,"m":1.35,"s":0.79,"k":78,"d":84},
{"i":218,"o":1255.2,"h":1255.5,"l":1253.35,"c":1253.7,"m":1.2,"s":0.87,"k":70,"d":78},
{"i":219,"o":1253.8,"h":1253.9,"l":1252.6,"c":1252.7,"m":1.0,"s":0.9,"k":65,"d":71},
{"i":220,"o":1252.75,"h":1253.4,"l":1252.5,"c":1252.6,"m":0.8,"s":0.88,"k":60,"d":65},
{"i":221,"o":1252.6,"h":1253.8,"l":1250.35,"c":1251.65,"m":0.6,"s":0.82,"k":55,"d":60},
{"i":222,"o":1251.6,"h":1251.7,"l":1245.7,"c":1245.8,"m":0.1,"s":0.68,"k":25,"d":47},
{"i":223,"o":1245.8,"h":1246.9,"l":1243.9,"c":1244.1,"m":-0.5,"s":0.44,"k":10,"d":30},
{"i":224,"o":1244.1,"h":1244.2,"l":1243.4,"c":1243.6,"m":-1.0,"s":0.15,"k":5,"d":13},
{"i":225,"o":1243.6,"h":1243.7,"l":1241.9,"c":1242.3,"m":-1.5,"s":-0.18,"k":4,"d":6},
{"i":226,"o":1242.3,"h":1243.0,"l":1242.0,"c":1242.8,"m":-1.8,"s":-0.5,"k":5,"d":5},
{"i":227,"o":1242.8,"h":1243.2,"l":1242.2,"c":1242.6,"m":-2.0,"s":-0.8,"k":6,"d":5},
{"i":228,"o":1242.6,"h":1245.2,"l":1242.4,"c":1243.6,"m":-2.2,"s":-1.08,"k":10,"d":7},
{"i":229,"o":1243.5,"h":1244.5,"l":1243.2,"c":1244.2,"m":-2.25,"s":-1.31,"k":12,"d":9},
{"i":230,"o":1244.2,"h":1244.4,"l":1243.5,"c":1243.7,"m":-2.28,"s":-1.5,"k":14,"d":12},
{"i":231,"o":1243.7,"h":1244.9,"l":1243.6,"c":1244.67,"m":-2.25,"s":-1.65,"k":15,"d":14},
{"i":232,"o":1243.9,"h":1245.2,"l":1243.8,"c":1244.7,"m":-2.2,"s":-1.76,"k":18,"d":16},
{"i":233,"o":1244.6,"h":1244.9,"l":1244.0,"c":1244.3,"m":-2.15,"s":-1.84,"k":22,"d":18},
{"i":234,"o":1244.3,"h":1244.8,"l":1243.9,"c":1244.6,"m":-2.05,"s":-1.88,"k":25,"d":22},
{"i":235,"o":1244.6,"h":1245.1,"l":1244.2,"c":1244.4,"m":-1.95,"s":-1.89,"k":28,"d":25},
{"i":236,"o":1244.4,"h":1245.1,"l":1244.2,"c":1244.9,"m":-1.85,"s":-1.88,"k":32,"d":28},
{"i":237,"o":1244.9,"h":1245.1,"l":1244.4,"c":1244.6,"m":-1.75,"s":-1.85,"k":35,"d":32},
{"i":238,"o":1244.6,"h":1245.3,"l":1244.5,"c":1245.1,"m":-1.65,"s":-1.81,"k":42,"d":36},
{"i":239,"o":1245.1,"h":1245.4,"l":1244.6,"c":1245.3,"m":-1.55,"s":-1.76,"k":50,"d":42},
{"i":240,"o":1245.3,"h":1245.8,"l":1245.0,"c":1245.6,"m":-1.45,"s":-1.7,"k":55,"d":49},
{"i":241,"o":1245.6,"h":1246.4,"l":1245.4,"c":1246.2,"m":-1.3,"s":-1.62,"k":60,"d":55},
{"i":242,"o":1246.2,"h":1247.3,"l":1246.0,"c":1247.1,"m":-1.15,"s":-1.53,"k":65,"d":60},
{"i":243,"o":1247.1,"h":1248.0,"l":1246.9,"c":1247.8,"m":-0.95,"s":-1.41,"k":75,"d":67},
{"i":244,"o":1247.8,"h":1248.3,"l":1247.2,"c":1247.5,"m":-0.8,"s":-1.29,"k":82,"d":74},
{"i":245,"o":1247.5,"h":1249.0,"l":1247.4,"c":1248.8,"m":-0.6,"s":-1.15,"k":90,"d":82},
{"i":246,"o":1248.8,"h":1250.0,"l":1248.6,"c":1249.8,"m":-0.35,"s":-0.99,"k":93,"d":88},
{"i":247,"o":1249.8,"h":1250.6,"l":1249.5,"c":1250.3,"m":-0.1,"s":-0.81,"k":95,"d":93},
{"i":248,"o":1250.3,"h":1254.1,"l":1250.1,"c":1253.0,"m":0.3,"s":-0.59,"k":96,"d":95},
{"i":249,"o":1253.0,"h":1257.0,"l":1252.3,"c":1256.95,"m":0.9,"s":-0.29,"k":96,"d":96},
{"i":250,"o":1256.95,"h":1257.0,"l":1255.1,"c":1255.4,"m":1.4,"s":0.05,"k":95,"d":96},
{"i":251,"o":1255.4,"h":1256.1,"l":1254.2,"c":1256.05,"m":1.75,"s":0.39,"k":95,"d":95},
{"i":252,"o":1256.05,"h":1256.1,"l":1254.9,"c":1255.4,"m":2.0,"s":0.71,"k":96,"d":95},
{"i":253,"o":1255.4,"h":1257.0,"l":1254.9,"c":1256.1,"m":2.2,"s":1.01,"k":95,"d":95},
{"i":254,"o":1256.1,"h":1256.4,"l":1255.0,"c":1255.05,"m":2.35,"s":1.28,"k":94,"d":95},
{"i":255,"o":1255.05,"h":1255.7,"l":1254.4,"c":1254.5,"m":2.45,"s":1.51,"k":93,"d":94},
{"i":256,"o":1254.5,"h":1255.4,"l":1253.6,"c":1255.35,"m":2.5,"s":1.71,"k":92,"d":93},
{"i":257,"o":1255.35,"h":1257.4,"l":1255.3,"c":1256.95,"m":2.6,"s":1.89,"k":90,"d":92},
{"i":258,"o":1256.95,"h":1261.4,"l":1256.9,"c":1260.05,"m":2.85,"s":2.08,"k":88,"d":90},
{"i":259,"o":1260.0,"h":1260.1,"l":1259.3,"c":1259.4,"m":3.0,"s":2.26,"k":82,"d":87},
{"i":260,"o":1259.35,"h":1262.2,"l":1259.3,"c":1260.85,"m":3.15,"s":2.44,"k":84,"d":85},
{"i":261,"o":1260.8,"h":1260.9,"l":1255.35,"c":1256.4,"m":3.1,"s":2.57,"k":80,"d":82},
{"i":262,"o":1256.4,"h":1258.6,"l":1255.9,"c":1258.5,"m":3.1,"s":2.68,"k":80,"d":81},
{"i":263,"o":1258.5,"h":1260.4,"l":1257.6,"c":1260.05,"m":3.25,"s":2.79,"k":84,"d":81},
{"i":264,"o":1260.0,"h":1261.8,"l":1259.0,"c":1261.2,"m":3.4,"s":2.91,"k":88,"d":84},
{"i":265,"o":1261.2,"h":1264.2,"l":1261.1,"c":1262.7,"m":3.55,"s":3.04,"k":92,"d":88},
{"i":266,"o":1262.65,"h":1265.4,"l":1262.5,"c":1264.0,"m":3.7,"s":3.17,"k":92,"d":91},
{"i":267,"o":1263.9,"h":1265.0,"l":1262.85,"c":1264.4,"m":3.87,"s":3.31,"k":88,"d":91},
{"i":268,"o":1264.35,"h":1266.55,"l":1264.0,"c":1264.3,"m":3.8,"s":3.41,"k":75,"d":85},
{"i":269,"o":1264.4,"h":1264.5,"l":1261.2,"c":1262.6,"m":3.6,"s":3.45,"k":65,"d":76},
{"i":270,"o":1262.6,"h":1263.4,"l":1262.1,"c":1263.3,"m":3.45,"s":3.45,"k":55,"d":65},
{"i":271,"o":1263.3,"h":1263.4,"l":1260.15,"c":1260.95,"m":3.25,"s":3.41,"k":45,"d":55},
{"i":272,"o":1261.0,"h":1261.3,"l":1259.65,"c":1260.6,"m":3.05,"s":3.34,"k":40,"d":47},
{"i":273,"o":1260.6,"h":1260.7,"l":1259.55,"c":1259.65,"m":2.85,"s":3.24,"k":42,"d":42},
{"i":274,"o":1260.0,"h":1261.1,"l":1259.9,"c":1261.05,"m":2.7,"s":3.13,"k":48,"d":43},
{"i":275,"o":1261.0,"h":1262.1,"l":1260.9,"c":1262.0,"m":2.55,"s":3.01,"k":50,"d":47},
{"i":276,"o":1262.0,"h":1262.65,"l":1261.9,"c":1262.2,"m":2.4,"s":2.89,"k":48,"d":49},
{"i":277,"o":1262.2,"h":1262.65,"l":1261.6,"c":1261.65,"m":2.25,"s":2.76,"k":46,"d":48},
{"i":278,"o":1261.65,"h":1261.7,"l":1260.1,"c":1260.65,"m":2.05,"s":2.62,"k":50,"d":48},
{"i":279,"o":1260.65,"h":1261.3,"l":1260.5,"c":1261.2,"m":1.9,"s":2.48,"k":50,"d":49},
{"i":280,"o":1260.7,"h":1261.7,"l":1260.3,"c":1261.6,"m":1.75,"s":2.33,"k":35,"d":45},
{"i":281,"o":1260.75,"h":1260.8,"l":1259.9,"c":1260.7,"m":1.6,"s":2.18,"k":20,"d":35},
{"i":282,"o":1260.65,"h":1260.8,"l":1260.0,"c":1260.35,"m":1.5,"s":2.04,"k":8,"d":21},
{"i":283,"o":1260.5,"h":1260.7,"l":1260.0,"c":1260.45,"m":1.35,"s":1.9,"k":5,"d":11},
{"i":284,"o":1260.4,"h":1260.5,"l":1259.5,"c":1259.6,"m":1.2,"s":1.76,"k":6,"d":6},
{"i":285,"o":1259.6,"h":1260.1,"l":1259.3,"c":1259.4,"m":1.05,"s":1.62,"k":7,"d":6},
{"i":286,"o":1259.5,"h":1259.6,"l":1259.0,"c":1259.3,"m":0.95,"s":1.49,"k":8,"d":7},
{"i":287,"o":1259.5,"h":1260.0,"l":1259.1,"c":1259.45,"m":0.85,"s":1.36,"k":9,"d":8},
{"i":288,"o":1259.5,"h":1259.6,"l":1258.7,"c":1259.2,"m":0.75,"s":1.24,"k":10,"d":9},
{"i":289,"o":1259.2,"h":1259.7,"l":1258.7,"c":1259.6,"m":0.7,"s":1.13,"k":25,"d":15},
{"i":290,"o":1259.6,"h":1261.2,"l":1259.5,"c":1261.1,"m":0.72,"s":1.05,"k":50,"d":28},
{"i":291,"o":1261.1,"h":1261.7,"l":1261.0,"c":1261.55,"m":0.72,"s":0.98,"k":65,"d":47},
{"i":292,"o":1261.5,"h":1262.8,"l":1261.4,"c":1261.95,"m":0.7,"s":0.92,"k":70,"d":62},
{"i":293,"o":1261.95,"h":1262.2,"l":1259.2,"c":1259.3,"m":0.55,"s":0.85,"k":55,"d":63},
{"i":294,"o":1259.35,"h":1259.4,"l":1256.9,"c":1258.7,"m":0.4,"s":0.76,"k":45,"d":57},
{"i":295,"o":1258.7,"h":1258.8,"l":1257.4,"c":1257.5,"m":0.25,"s":0.66,"k":35,"d":45},
{"i":296,"o":1257.5,"h":1258.1,"l":1256.15,"c":1258.0,"m":0.15,"s":0.56,"k":30,"d":37},
{"i":297,"o":1257.9,"h":1258.1,"l":1257.1,"c":1257.95,"m":0.1,"s":0.47,"k":32,"d":32},
{"i":298,"o":1257.85,"h":1260.9,"l":1256.3,"c":1260.0,"m":0.2,"s":0.42,"k":50,"d":37},
{"i":299,"o":1260.0,"h":1260.3,"l":1259.9,"c":1260.2,"m":0.25,"s":0.39,"k":60,"d":47},
{"i":300,"o":1259.5,"h":1260.7,"l":1259.0,"c":1260.3,"m":0.25,"s":0.36,"k":65,"d":58},
{"i":301,"o":1259.4,"h":1260.0,"l":1259.3,"c":1259.95,"m":0.22,"s":0.33,"k":68,"d":64},
{"i":302,"o":1259.95,"h":1261.7,"l":1259.9,"c":1261.15,"m":0.28,"s":0.32,"k":70,"d":68},
{"i":303,"o":1261.15,"h":1262.2,"l":1260.8,"c":1260.85,"m":0.3,"s":0.32,"k":62,"d":67},
{"i":304,"o":1260.95,"h":1261.2,"l":1258.5,"c":1260.65,"m":0.22,"s":0.3,"k":50,"d":61},
{"i":305,"o":1260.65,"h":1260.7,"l":1257.9,"c":1258.05,"m":0.05,"s":0.25,"k":40,"d":51},
{"i":306,"o":1258.05,"h":1259.1,"l":1256.95,"c":1259.0,"m":-0.05,"s":0.19,"k":45,"d":45},
{"i":307,"o":1259.0,"h":1259.3,"l":1257.4,"c":1259.2,"m":-0.1,"s":0.13,"k":46,"d":44},
{"i":308,"o":1259.2,"h":1260.05,"l":1259.0,"c":1259.25,"m":-0.12,"s":0.08,"k":45,"d":45},
{"i":309,"o":1259.15,"h":1259.2,"l":1256.9,"c":1257.65,"m":-0.25,"s":0.01,"k":30,"d":40},
{"i":310,"o":1257.65,"h":1257.7,"l":1257.3,"c":1257.4,"m":-0.4,"s":-0.07,"k":20,"d":32},
{"i":311,"o":1257.4,"h":1257.7,"l":1257.0,"c":1257.15,"m":-0.5,"s":-0.16,"k":16,"d":22},
{"i":312,"o":1257.15,"h":1257.2,"l":1254.0,"c":1254.8,"m":-0.75,"s":-0.28,"k":15,"d":17},
{"i":313,"o":1254.8,"h":1255.6,"l":1254.2,"c":1255.45,"m":-0.85,"s":-0.39,"k":17,"d":16},
{"i":314,"o":1255.4,"h":1256.0,"l":1254.6,"c":1255.9,"m":-0.9,"s":-0.49,"k":18,"d":17},
{"i":315,"o":1255.9,"h":1256.0,"l":1255.3,"c":1255.4,"m":-0.95,"s":-0.58,"k":20,"d":18},
{"i":316,"o":1255.45,"h":1255.5,"l":1255.1,"c":1255.2,"m":-1.0,"s":-0.66,"k":18,"d":19},
{"i":317,"o":1255.2,"h":1255.6,"l":1255.1,"c":1255.5,"m":-1.05,"s":-0.74,"k":17,"d":18},
{"i":318,"o":1255.5,"h":1255.6,"l":1255.2,"c":1255.3,"m":-1.05,"s":-0.8,"k":18,"d":18},
{"i":319,"o":1255.3,"h":1255.6,"l":1255.2,"c":1255.5,"m":-1.0,"s":-0.84,"k":20,"d":18},
{"i":320,"o":1257.85,"h":1258.5,"l":1257.5,"c":1258.45,"m":-0.75,"s":-0.82,"k":60,"d":33},
{"i":321,"o":1258.4,"h":1259.0,"l":1258.3,"c":1258.95,"m":-0.5,"s":-0.76,"k":85,"d":55},
{"i":322,"o":1258.95,"h":1261.0,"l":1258.9,"c":1260.9,"m":-0.2,"s":-0.65,"k":92,"d":79},
{"i":323,"o":1260.9,"h":1261.6,"l":1260.5,"c":1260.65,"m":0.05,"s":-0.51,"k":95,"d":91},
{"i":324,"o":1260.6,"h":1260.7,"l":1260.2,"c":1260.65,"m":0.25,"s":-0.36,"k":96,"d":94},
{"i":325,"o":1260.6,"h":1261.1,"l":1260.5,"c":1261.0,"m":0.45,"s":-0.2,"k":97,"d":96},
{"i":326,"o":1261.0,"h":1262.3,"l":1260.9,"c":1262.2,"m":0.7,"s":-0.02,"k":96,"d":96},
{"i":327,"o":1262.2,"h":1264.1,"l":1262.1,"c":1264.0,"m":1.0,"s":0.18,"k":97,"d":97},
{"i":328,"o":1264.0,"h":1264.4,"l":1263.5,"c":1263.55,"m":1.15,"s":0.37,"k":96,"d":96},
{"i":329,"o":1263.55,"h":1264.4,"l":1263.2,"c":1264.05,"m":1.3,"s":0.56,"k":95,"d":96},
{"i":330,"o":1264.0,"h":1264.35,"l":1263.2,"c":1264.1,"m":1.4,"s":0.73,"k":96,"d":96},
{"i":331,"o":1264.05,"h":1264.2,"l":1263.9,"c":1264.07,"m":1.45,"s":0.87,"k":95,"d":95},
{"i":332,"o":1264.0,"h":1264.2,"l":1263.9,"c":1264.05,"m":1.45,"s":0.99,"k":94,"d":95},
{"i":333,"o":1263.95,"h":1264.0,"l":1262.85,"c":1263.4,"m":1.4,"s":1.07,"k":90,"d":93},
{"i":334,"o":1263.4,"h":1263.6,"l":1262.9,"c":1262.95,"m":1.35,"s":1.13,"k":88,"d":91},
{"i":335,"o":1263.1,"h":1263.2,"l":1262.1,"c":1262.95,"m":1.3,"s":1.16,"k":86,"d":88},
{"i":336,"o":1263.1,"h":1263.4,"l":1263.0,"c":1263.3,"m":1.25,"s":1.18,"k":88,"d":87},
{"i":337,"o":1263.2,"h":1263.3,"l":1262.5,"c":1262.55,"m":1.2,"s":1.18,"k":90,"d":88},
{"i":338,"o":1262.55,"h":1265.35,"l":1262.0,"c":1264.35,"m":1.25,"s":1.19,"k":88,"d":89},
{"i":339,"o":1264.35,"h":1264.7,"l":1263.5,"c":1263.55,"m":1.22,"s":1.2,"k":75,"d":84},
{"i":340,"o":1263.6,"h":1263.7,"l":1262.4,"c":1262.7,"m":1.1,"s":1.18,"k":60,"d":74},
{"i":341,"o":1262.75,"h":1262.8,"l":1262.1,"c":1262.2,"m":0.95,"s":1.13,"k":40,"d":58},
{"i":342,"o":1262.2,"h":1262.3,"l":1262.1,"c":1262.25,"m":0.8,"s":1.06,"k":25,"d":42},
{"i":343,"o":1262.3,"h":1262.4,"l":1259.35,"c":1260.05,"m":0.55,"s":0.96,"k":20,"d":28},
{"i":344,"o":1260.05,"h":1260.9,"l":1259.9,"c":1260.85,"m":0.45,"s":0.86,"k":28,"d":24},
{"i":345,"o":1260.85,"h":1261.1,"l":1260.8,"c":1261.05,"m":0.35,"s":0.76,"k":35,"d":28},
{"i":346,"o":1260.95,"h":1263.2,"l":1260.9,"c":1262.7,"m":0.4,"s":0.69,"k":50,"d":38},
{"i":347,"o":1262.7,"h":1263.1,"l":1262.3,"c":1262.4,"m":0.42,"s":0.63,"k":60,"d":48},
{"i":348,"o":1262.4,"h":1262.5,"l":1261.7,"c":1261.85,"m":0.4,"s":0.58,"k":70,"d":60},
{"i":349,"o":1262.35,"h":1263.5,"l":1262.2,"c":1263.2,"m":0.45,"s":0.55,"k":75,"d":68},
{"i":350,"o":1263.2,"h":1264.7,"l":1263.1,"c":1264.6,"m":0.6,"s":0.56,"k":82,"d":76},
{"i":351,"o":1264.6,"h":1266.9,"l":1264.5,"c":1266.35,"m":0.85,"s":0.62,"k":86,"d":81},
{"i":352,"o":1266.2,"h":1266.8,"l":1266.1,"c":1266.6,"m":1.05,"s":0.71,"k":88,"d":85},
{"i":353,"o":1266.6,"h":1266.7,"l":1265.1,"c":1265.9,"m":1.15,"s":0.8,"k":90,"d":88},
{"i":354,"o":1265.9,"h":1267.3,"l":1265.8,"c":1267.25,"m":1.3,"s":0.9,"k":92,"d":90},
{"i":355,"o":1267.25,"h":1268.0,"l":1267.1,"c":1267.95,"m":1.45,"s":1.01,"k":93,"d":92},
{"i":356,"o":1267.95,"h":1269.4,"l":1267.9,"c":1268.4,"m":1.6,"s":1.13,"k":92,"d":92},
{"i":357,"o":1268.3,"h":1268.5,"l":1268.1,"c":1268.25,"m":1.65,"s":1.23,"k":90,"d":92},
{"i":358,"o":1268.2,"h":1268.4,"l":1268.1,"c":1268.27,"m":1.65,"s":1.31,"k":90,"d":91},
{"i":359,"o":1268.1,"h":1271.3,"l":1268.0,"c":1269.45,"m":1.75,"s":1.4,"k":88,"d":89},
{"i":360,"o":1269.5,"h":1269.7,"l":1267.2,"c":1267.3,"m":1.55,"s":1.43,"k":70,"d":83},
{"i":361,"o":1267.3,"h":1267.4,"l":1265.5,"c":1265.6,"m":1.3,"s":1.4,"k":58,"d":72},
{"i":362,"o":1265.6,"h":1265.8,"l":1264.3,"c":1265.7,"m":1.1,"s":1.34,"k":62,"d":63},
{"i":363,"o":1265.7,"h":1269.5,"l":1265.6,"c":1269.45,"m":1.35,"s":1.34,"k":78,"d":66},
{"i":364,"o":1269.45,"h":1271.0,"l":1269.3,"c":1270.95,"m":1.6,"s":1.39,"k":88,"d":76},
{"i":365,"o":1270.95,"h":1272.3,"l":1270.8,"c":1272.25,"m":1.85,"s":1.48,"k":93,"d":86},
{"i":366,"o":1272.2,"h":1272.7,"l":1272.1,"c":1272.6,"m":1.95,"s":1.58,"k":95,"d":92},
{"i":367,"o":1272.45,"h":1273.0,"l":1272.4,"c":1272.9,"m":2.0,"s":1.66,"k":96,"d":95},
{"i":368,"o":1272.85,"h":1272.9,"l":1272.3,"c":1272.45,"m":2.0,"s":1.73,"k":95,"d":95},
{"i":369,"o":1272.45,"h":1272.7,"l":1272.2,"c":1272.47,"m":1.98,"s":1.78,"k":96,"d":96},
{"i":370,"o":1272.55,"h":1272.6,"l":1272.1,"c":1272.25,"m":1.95,"s":1.81,"k":95,"d":95},
{"i":371,"o":1272.6,"h":1272.7,"l":1272.2,"c":1272.3,"m":1.9,"s":1.83,"k":96,"d":96},
{"i":372,"o":1272.2,"h":1273.1,"l":1271.2,"c":1273.0,"m":1.9,"s":1.84,"k":97,"d":96},
{"i":373,"o":1272.9,"h":1274.8,"l":1272.8,"c":1274.6,"m":2.0,"s":1.87,"k":96,"d":96},
{"i":374,"o":1274.55,"h":1274.6,"l":1273.3,"c":1273.4,"m":1.95,"s":1.89,"k":95,"d":96},
{"i":375,"o":1273.9,"h":1274.0,"l":1273.3,"c":1273.4,"m":1.9,"s":1.89,"k":94,"d":95},
{"i":376,"o":1273.35,"h":1273.4,"l":1272.1,"c":1272.9,"m":1.82,"s":1.88,"k":90,"d":93},
{"i":377,"o":1272.9,"h":1273.4,"l":1272.8,"c":1273.35,"m":1.75,"s":1.85,"k":88,"d":91},
{"i":378,"o":1273.2,"h":1273.3,"l":1271.7,"c":1272.5,"m":1.68,"s":1.82,"k":85,"d":88},
{"i":379,"o":1272.5,"h":1272.9,"l":1272.4,"c":1272.85,"m":1.6,"s":1.78,"k":70,"d":81},
{"i":380,"o":1272.8,"h":1273.0,"l":1272.6,"c":1272.82,"m":1.52,"s":1.73,"k":55,"d":70},
{"i":381,"o":1272.85,"h":1272.9,"l":1272.4,"c":1272.5,"m":1.45,"s":1.67,"k":52,"d":59},
{"i":382,"o":1272.5,"h":1273.4,"l":1272.4,"c":1273.35,"m":1.42,"s":1.62,"k":55,"d":54},
{"i":383,"o":1273.35,"h":1274.35,"l":1273.2,"c":1273.37,"m":1.38,"s":1.57,"k":50,"d":52},
{"i":384,"o":1273.4,"h":1273.5,"l":1273.0,"c":1273.1,"m":1.32,"s":1.52,"k":60,"d":55},
{"i":385,"o":1273.0,"h":1273.1,"l":1271.1,"c":1271.2,"m":1.15,"s":1.45,"k":70,"d":60},
{"i":386,"o":1271.35,"h":1272.1,"l":1271.2,"c":1272.0,"m":1.05,"s":1.37,"k":80,"d":70},
{"i":387,"o":1272.0,"h":1276.6,"l":1271.9,"c":1275.1,"m":1.25,"s":1.35,"k":85,"d":78},
{"i":388,"o":1275.1,"h":1275.2,"l":1273.4,"c":1274.55,"m":1.3,"s":1.34,"k":87,"d":84},
{"i":389,"o":1274.55,"h":1277.1,"l":1274.4,"c":1275.75,"m":1.4,"s":1.35,"k":90,"d":87},
{"i":390,"o":1275.75,"h":1275.8,"l":1273.35,"c":1274.5,"m":1.38,"s":1.36,"k":88,"d":88},
{"i":391,"o":1274.5,"h":1276.95,"l":1274.4,"c":1276.9,"m":1.5,"s":1.39,"k":92,"d":90},
{"i":392,"o":1276.85,"h":1278.8,"l":1276.8,"c":1278.2,"m":1.65,"s":1.44,"k":93,"d":91},
{"i":393,"o":1278.2,"h":1279.1,"l":1277.5,"c":1277.6,"m":1.68,"s":1.49,"k":90,"d":92},
{"i":394,"o":1277.6,"h":1278.5,"l":1276.0,"c":1276.1,"m":1.6,"s":1.51,"k":80,"d":88},
{"i":395,"o":1276.1,"h":1276.2,"l":1272.2,"c":1272.3,"m":1.3,"s":1.47,"k":60,"d":77},
{"i":396,"o":1272.25,"h":1272.3,"l":1269.55,"c":1269.85,"m":0.9,"s":1.36,"k":40,"d":60},
{"i":397,"o":1269.8,"h":1272.0,"l":1269.7,"c":1270.05,"m":0.55,"s":1.2,"k":28,"d":43},
{"i":398,"o":1270.1,"h":1270.2,"l":1266.8,"c":1266.95,"m":0.1,"s":0.98,"k":15,"d":28},
{"i":399,"o":1267.0,"h":1268.35,"l":1266.8,"c":1266.9,"m":-0.25,"s":0.73,"k":8,"d":17},
{"i":400,"o":1267.0,"h":1267.1,"l":1265.9,"c":1266.0,"m":-0.55,"s":0.47,"k":4,"d":9},
{"i":401,"o":1266.4,"h":1266.8,"l":1264.65,"c":1266.42,"m":-0.85,"s":0.21,"k":3,"d":5},
{"i":402,"o":1265.85,"h":1266.9,"l":1265.7,"c":1266.3,"m":-1.1,"s":-0.05,"k":4,"d":4},
{"i":403,"o":1266.3,"h":1266.8,"l":1265.7,"c":1266.7,"m":-1.3,"s":-0.3,"k":5,"d":4},
{"i":404,"o":1266.6,"h":1267.0,"l":1266.5,"c":1266.95,"m":-1.45,"s":-0.53,"k":8,"d":6},
{"i":405,"o":1266.9,"h":1269.4,"l":1266.8,"c":1269.3,"m":-1.3,"s":-0.68,"k":12,"d":8},
{"i":406,"o":1269.2,"h":1269.7,"l":1268.9,"c":1269.3,"m":-1.15,"s":-0.77,"k":15,"d":12},
{"i":407,"o":1269.1,"h":1269.5,"l":1269.0,"c":1269.4,"m":-1.0,"s":-0.82,"k":25,"d":17},
{"i":408,"o":1269.35,"h":1270.5,"l":1268.9,"c":1270.45,"m":-0.9,"s":-0.84,"k":35,"d":25},
{"i":409,"o":1270.4,"h":1272.4,"l":1270.3,"c":1270.9,"m":-0.8,"s":-0.83,"k":42,"d":34},
{"i":410,"o":1270.9,"h":1271.55,"l":1270.4,"c":1270.5,"m":-0.7,"s":-0.8,"k":55,"d":44},
{"i":411,"o":1270.55,"h":1271.1,"l":1270.2,"c":1270.3,"m":-0.65,"s":-0.77,"k":65,"d":54},
{"i":412,"o":1270.3,"h":1270.4,"l":1269.4,"c":1270.0,"m":-0.62,"s":-0.74,"k":72,"d":64},
{"i":413,"o":1270.15,"h":1270.3,"l":1269.4,"c":1270.2,"m":-0.6,"s":-0.71,"k":75,"d":71},
{"i":414,"o":1270.1,"h":1270.2,"l":1269.3,"c":1269.35,"m":-0.6,"s":-0.69,"k":73,"d":73},
{"i":415,"o":1269.35,"h":1270.0,"l":1269.3,"c":1269.9,"m":-0.6,"s":-0.67,"k":70,"d":73},
{"i":416,"o":1269.8,"h":1270.0,"l":1269.5,"c":1269.55,"m":-0.58,"s":-0.65,"k":65,"d":69},
{"i":417,"o":1269.6,"h":1269.7,"l":1268.8,"c":1268.85,"m":-0.6,"s":-0.64,"k":60,"d":65},
{"i":418,"o":1268.85,"h":1269.1,"l":1268.5,"c":1268.95,"m":-0.62,"s":-0.64,"k":55,"d":60},
{"i":419,"o":1268.85,"h":1268.9,"l":1268.1,"c":1268.8,"m":-0.62,"s":-0.64,"k":40,"d":52},
{"i":420,"o":1268.9,"h":1269.0,"l":1268.7,"c":1268.8,"m":-0.62,"s":-0.63,"k":25,"d":40},
{"i":421,"o":1268.8,"h":1268.9,"l":1267.8,"c":1268.3,"m":-0.62,"s":-0.63,"k":15,"d":27},
{"i":422,"o":1268.3,"h":1268.4,"l":1266.6,"c":1266.7,"m":-0.72,"s":-0.65,"k":18,"d":19},
{"i":423,"o":1266.75,"h":1269.4,"l":1266.7,"c":1269.35,"m":-0.5,"s":-0.62,"k":28,"d":20},
{"i":424,"o":1269.35,"h":1271.9,"l":1269.3,"c":1271.85,"m":-0.15,"s":-0.53,"k":40,"d":29},
{"i":425,"o":1271.85,"h":1272.5,"l":1271.7,"c":1272.4,"m":0.1,"s":-0.4,"k":60,"d":43},
{"i":426,"o":1272.4,"h":1273.5,"l":1272.3,"c":1272.7,"m":0.3,"s":-0.26,"k":75,"d":58},
{"i":427,"o":1272.6,"h":1273.75,"l":1271.8,"c":1271.85,"m":0.4,"s":-0.13,"k":78,"d":71},
{"i":428,"o":1271.9,"h":1272.7,"l":1271.5,"c":1272.6,"m":0.5,"s":0.0,"k":82,"d":78},
{"i":429,"o":1272.6,"h":1272.7,"l":1271.2,"c":1271.25,"m":0.5,"s":0.1,"k":85,"d":82},
{"i":430,"o":1271.35,"h":1271.4,"l":1270.8,"c":1271.05,"m":0.45,"s":0.17,"k":84,"d":84},
{"i":431,"o":1271.0,"h":1273.5,"l":1270.9,"c":1273.4,"m":0.6,"s":0.26,"k":80,"d":83},
{"i":432,"o":1273.45,"h":1273.5,"l":1272.8,"c":1273.47,"m":0.75,"s":0.36,"k":65,"d":76},
{"i":433,"o":1273.45,"h":1276.3,"l":1273.4,"c":1275.1,"m":0.95,"s":0.48,"k":70,"d":72},
{"i":434,"o":1275.0,"h":1276.6,"l":1274.0,"c":1275.8,"m":1.1,"s":0.6,"k":75,"d":70},
{"i":435,"o":1275.45,"h":1276.7,"l":1275.3,"c":1275.75,"m":1.2,"s":0.72,"k":72,"d":72},
{"i":436,"o":1275.5,"h":1276.7,"l":1275.4,"c":1275.8,"m":1.3,"s":0.84,"k":70,"d":72},
{"i":437,"o":1275.8,"h":1275.9,"l":1272.4,"c":1273.2,"m":1.15,"s":0.9,"k":62,"d":68},
{"i":438,"o":1273.2,"h":1274.7,"l":1272.0,"c":1274.6,"m":1.1,"s":0.94,"k":60,"d":64},
{"i":439,"o":1274.6,"h":1274.7,"l":1273.3,"c":1274.05,"m":1.1,"s":0.97,"k":65,"d":62},
{"i":440,"o":1274.05,"h":1275.3,"l":1274.0,"c":1275.25,"m":1.2,"s":1.02,"k":75,"d":67},
{"i":441,"o":1275.25,"h":1276.7,"l":1275.2,"c":1276.6,"m":1.4,"s":1.1,"k":85,"d":75},
{"i":442,"o":1276.6,"h":1277.5,"l":1276.5,"c":1277.4,"m":1.6,"s":1.2,"k":90,"d":83},
{"i":443,"o":1277.4,"h":1278.9,"l":1277.3,"c":1278.15,"m":1.75,"s":1.31,"k":92,"d":89},
{"i":444,"o":1278.1,"h":1279.0,"l":1278.0,"c":1278.4,"m":1.85,"s":1.42,"k":93,"d":92},
{"i":445,"o":1278.35,"h":1278.9,"l":1277.9,"c":1278.05,"m":1.8,"s":1.5,"k":90,"d":92},
{"i":446,"o":1278.1,"h":1278.9,"l":1275.9,"c":1275.95,"m":1.55,"s":1.51,"k":80,"d":88},
{"i":447,"o":1276.1,"h":1276.2,"l":1274.9,"c":1274.95,"m":1.35,"s":1.48,"k":70,"d":80},
{"i":448,"o":1275.05,"h":1275.2,"l":1274.0,"c":1275.07,"m":1.15,"s":1.41,"k":62,"d":71},
{"i":449,"o":1275.1,"h":1275.5,"l":1275.0,"c":1275.25,"m":1.0,"s":1.33,"k":55,"d":62},
{"i":450,"o":1275.1,"h":1275.7,"l":1275.0,"c":1275.55,"m":0.85,"s":1.23,"k":48,"d":55},
{"i":451,"o":1275.2,"h":1275.3,"l":1274.5,"c":1275.22,"m":0.7,"s":1.12,"k":45,"d":49},
{"i":452,"o":1275.1,"h":1275.2,"l":1274.7,"c":1274.8,"m":0.55,"s":1.01,"k":38,"d":44},
{"i":453,"o":1274.7,"h":1274.8,"l":1274.2,"c":1274.72,"m":0.45,"s":0.9,"k":30,"d":38},
{"i":454,"o":1274.6,"h":1275.7,"l":1274.5,"c":1275.6,"m":0.48,"s":0.82,"k":35,"d":34},
{"i":455,"o":1275.6,"h":1276.1,"l":1275.5,"c":1276.0,"m":0.55,"s":0.77,"k":45,"d":37},
{"i":456,"o":1276.0,"h":1277.9,"l":1275.9,"c":1277.8,"m":0.75,"s":0.77,"k":65,"d":48},
{"i":457,"o":1277.75,"h":1278.3,"l":1277.7,"c":1277.95,"m":0.88,"s":0.79,"k":80,"d":63},
{"i":458,"o":1277.9,"h":1278.4,"l":1277.8,"c":1278.3,"m":0.95,"s":0.82,"k":85,"d":77},
{"i":459,"o":1278.3,"h":1278.4,"l":1277.3,"c":1277.4,"m":0.95,"s":0.85,"k":84,"d":83},
{"i":460,"o":1277.4,"h":1278.0,"l":1277.3,"c":1277.9,"m":0.98,"s":0.88,"k":87,"d":85},
{"i":461,"o":1277.9,"h":1278.3,"l":1277.8,"c":1278.1,"m":1.0,"s":0.9,"k":90,"d":87},
{"i":462,"o":1278.1,"h":1278.2,"l":1277.6,"c":1277.7,"m":0.98,"s":0.92,"k":92,"d":90},
{"i":463,"o":1277.7,"h":1277.8,"l":1277.2,"c":1277.3,"m":0.95,"s":0.93,"k":85,"d":89},
{"i":464,"o":1277.3,"h":1277.7,"l":1277.2,"c":1277.56,"m":0.916,"s":0.954,"k":77.88,"d":82.5}
]},
"vconcat":[
{"width":1865,"height":582,
"layer":[
{"data":{"name":"seps"},"mark":{"type":"rule","color":"black","strokeDash":[3,2],"strokeWidth":1},
 "encoding":{"x":{"field":"x","type":"quantitative","scale":{"domain":[-0.2,466.05],"nice":false,"zero":false},"axis":null}}},
{"data":{"name":"bars"},"mark":{"type":"rule","color":"black","strokeWidth":1},
 "encoding":{"x":{"field":"i","type":"quantitative","axis":null},
  "y":{"field":"l","type":"quantitative","scale":{"domain":[1231.62,1281.57],"nice":false,"zero":false},"axis":null},
  "y2":{"field":"h"}}},
{"data":{"name":"bars"},"mark":{"type":"bar","width":2,"stroke":"black","strokeWidth":1},
 "encoding":{"x":{"field":"i","type":"quantitative","axis":null},"y":{"field":"o","type":"quantitative","axis":null},"y2":{"field":"c"},
  "fill":{"condition":{"test":"datum.c >= datum.o","value":"#008000"},"value":"#ff0000"}}},
{"data":{"values":[{"p":1277.56}]},"mark":{"type":"rule","color":"#006400","strokeWidth":1},
 "encoding":{"y":{"field":"p","type":"quantitative","axis":null}}},
{"data":{"name":"trend"},"mark":{"type":"line","color":"black","strokeWidth":3.2},
 "encoding":{"x":{"field":"x","type":"quantitative","axis":null},"y":{"field":"y","type":"quantitative","axis":null}}},
{"data":{"name":"pt"},"mark":{"type":"rule","color":"black","strokeWidth":1,"clip":false},
 "encoding":{"x":{"datum":466.3,"type":"quantitative","axis":null},"x2":{"datum":467.3},"y":{"field":"v","type":"quantitative","axis":null}}},
{"data":{"name":"pt"},"mark":{"type":"text","align":"left","baseline":"middle","fontSize":9.5},
 "encoding":{"x":{"datum":468.0,"type":"quantitative","axis":null},"y":{"field":"v","type":"quantitative","axis":null},"text":{"field":"t"}}},
{"data":{"values":[{"p":1277.56,"t":"1277.56"}]},"mark":{"type":"rect","fill":"black","clip":false},
 "encoding":{"x":{"datum":466.1,"type":"quantitative","axis":null},"x2":{"datum":476.8},"y":{"datum":1278.06,"type":"quantitative","axis":null},"y2":{"datum":1277.06}}},
{"data":{"values":[{"p":1277.56,"t":"1277.56"}]},"mark":{"type":"text","color":"white","align":"left","baseline":"middle","fontSize":9.5},
 "encoding":{"x":{"datum":468.0,"type":"quantitative","axis":null},"y":{"field":"p","type":"quantitative","axis":null},"text":{"field":"t"}}},
{"data":{"values":[{"t":"▼","x":0.7,"y":1280.9}]},"mark":{"type":"text","align":"left","baseline":"middle","fontSize":8,"font":"DejaVu Sans"},
 "encoding":{"x":{"field":"x","type":"quantitative","axis":null},"y":{"field":"y","type":"quantitative","axis":null},"text":{"field":"t"}}},
{"data":{"values":[{"t":"XAUUSD,M30  1277.30 1277.70 1277.20 1277.56","x":3.3,"y":1280.9}]},"mark":{"type":"text","align":"left","baseline":"middle","fontSize":9.7},
 "encoding":{"x":{"field":"x","type":"quantitative","axis":null},"y":{"field":"y","type":"quantitative","axis":null},"text":{"field":"t"}}}
]},
{"width":1865,"height":177,
"layer":[
{"data":{"name":"seps"},"mark":{"type":"rule","color":"black","strokeDash":[3,2],"strokeWidth":1},
 "encoding":{"x":{"field":"x","type":"quantitative","scale":{"domain":[-0.2,466.05],"nice":false,"zero":false},"axis":null}}},
{"data":{"name":"bars"},"mark":{"type":"bar","width":2,"color":"black"},
 "encoding":{"x":{"field":"i","type":"quantitative","axis":null},
  "y":{"field":"m","type":"quantitative","scale":{"domain":[-2.315,3.873],"nice":false,"zero":false},"axis":null},
  "y2":{"datum":0}}},
{"data":{"name":"bars"},"mark":{"type":"line","color":"#ff0000","strokeWidth":1,"strokeDash":[2,2]},
 "encoding":{"x":{"field":"i","type":"quantitative","axis":null},"y":{"field":"s","type":"quantitative","axis":null}}},
{"data":{"values":[{"t":"MACD(12,26,9) 0.916 0.954","x":0.9,"y":3.56}]},"mark":{"type":"text","align":"left","baseline":"middle","fontSize":9.7},
 "encoding":{"x":{"field":"x","type":"quantitative","axis":null},"y":{"field":"y","type":"quantitative","axis":null},"text":{"field":"t"}}},
{"data":{"values":[{"v":0}]},"mark":{"type":"rule","color":"black","strokeWidth":1,"clip":false},
 "encoding":{"x":{"datum":466.3,"type":"quantitative","axis":null},"x2":{"datum":467.3},"y":{"field":"v","type":"quantitative","axis":null}}},
{"data":{"values":[{"v":3.873,"t":"3.873"}]},"mark":{"type":"text","align":"left","baseline":"top","fontSize":9.5,"dy":1},
 "encoding":{"x":{"datum":468.0,"type":"quantitative","axis":null},"y":{"field":"v","type":"quantitative","axis":null},"text":{"field":"t"}}},
{"data":{"values":[{"v":0,"t":"0.00"}]},"mark":{"type":"text","align":"left","baseline":"middle","fontSize":9.5},
 "encoding":{"x":{"datum":468.0,"type":"quantitative","axis":null},"y":{"field":"v","type":"quantitative","axis":null},"text":{"field":"t"}}},
{"data":{"values":[{"v":-2.315,"t":"-2.315"}]},"mark":{"type":"text","align":"left","baseline":"bottom","fontSize":9.5,"dy":-1},
 "encoding":{"x":{"datum":468.0,"type":"quantitative","axis":null},"y":{"field":"v","type":"quantitative","axis":null},"text":{"field":"t"}}}
]},
{"width":1865,"height":176,
"layer":[
{"data":{"name":"seps"},"mark":{"type":"rule","color":"black","strokeDash":[3,2],"strokeWidth":1},
 "encoding":{"x":{"field":"x","type":"quantitative","scale":{"domain":[-0.2,466.05],"nice":false,"zero":false},"axis":null}}},
{"data":{"values":[{"v":20},{"v":80}]},"mark":{"type":"rule","color":"#c0c0c0","strokeDash":[4,3],"strokeWidth":1},
 "encoding":{"y":{"field":"v","type":"quantitative","scale":{"domain":[0,100],"nice":false,"zero":false},"axis":null}}},
{"data":{"name":"bars"},"mark":{"type":"line","color":"#20b2aa","strokeWidth":1},
 "encoding":{"x":{"field":"i","type":"quantitative","axis":null},"y":{"field":"k","type":"quantitative","axis":null}}},
{"data":{"name":"bars"},"mark":{"type":"line","color":"#ff0000","strokeWidth":1,"strokeDash":[2,2]},
 "encoding":{"x":{"field":"i","type":"quantitative","axis":null},"y":{"field":"d","type":"quantitative","axis":null}}},
{"data":{"values":[{"t":"Stoch(14,3,3) 77.8846 82.4954","x":0.9,"y":94.7}]},"mark":{"type":"text","align":"left","baseline":"middle","fontSize":9.7},
 "encoding":{"x":{"field":"x","type":"quantitative","axis":null},"y":{"field":"y","type":"quantitative","axis":null},"text":{"field":"t"}}},
{"data":{"values":[{"v":20},{"v":80}]},"mark":{"type":"rule","color":"black","strokeWidth":1,"clip":false},
 "encoding":{"x":{"datum":466.3,"type":"quantitative","axis":null},"x2":{"datum":467.3},"y":{"field":"v","type":"quantitative","axis":null}}},
{"data":{"values":[{"v":100,"t":"100"}]},"mark":{"type":"text","align":"left","baseline":"top","fontSize":9.5,"dy":1},
 "encoding":{"x":{"datum":468.0,"type":"quantitative","axis":null},"y":{"field":"v","type":"quantitative","axis":null},"text":{"field":"t"}}},
{"data":{"values":[{"v":80,"t":"80"},{"v":20,"t":"20"}]},"mark":{"type":"text","align":"left","baseline":"middle","fontSize":9.5},
 "encoding":{"x":{"datum":468.0,"type":"quantitative","axis":null},"y":{"field":"v","type":"quantitative","axis":null},"text":{"field":"t"}}},
{"data":{"values":[{"v":0,"t":"0"}]},"mark":{"type":"text","align":"left","baseline":"bottom","fontSize":9.5,"dy":-1},
 "encoding":{"x":{"datum":468.0,"type":"quantitative","axis":null},"y":{"field":"v","type":"quantitative","axis":null},"text":{"field":"t"}}},
{"data":{"name":"xt"},"mark":{"type":"rule","color":"black","strokeWidth":1,"clip":false},
 "encoding":{"x":{"field":"x","type":"quantitative","axis":null},"y":{"datum":0,"type":"quantitative","axis":null},"y2":{"datum":-2.9}}},
{"data":{"name":"xt"},"mark":{"type":"text","align":"left","baseline":"middle","fontSize":9,"dx":1},
 "encoding":{"x":{"field":"x","type":"quantitative","axis":null},"y":{"datum":-5.0,"type":"quantitative","axis":null},"text":{"field":"t"}}}
]}
]
}
